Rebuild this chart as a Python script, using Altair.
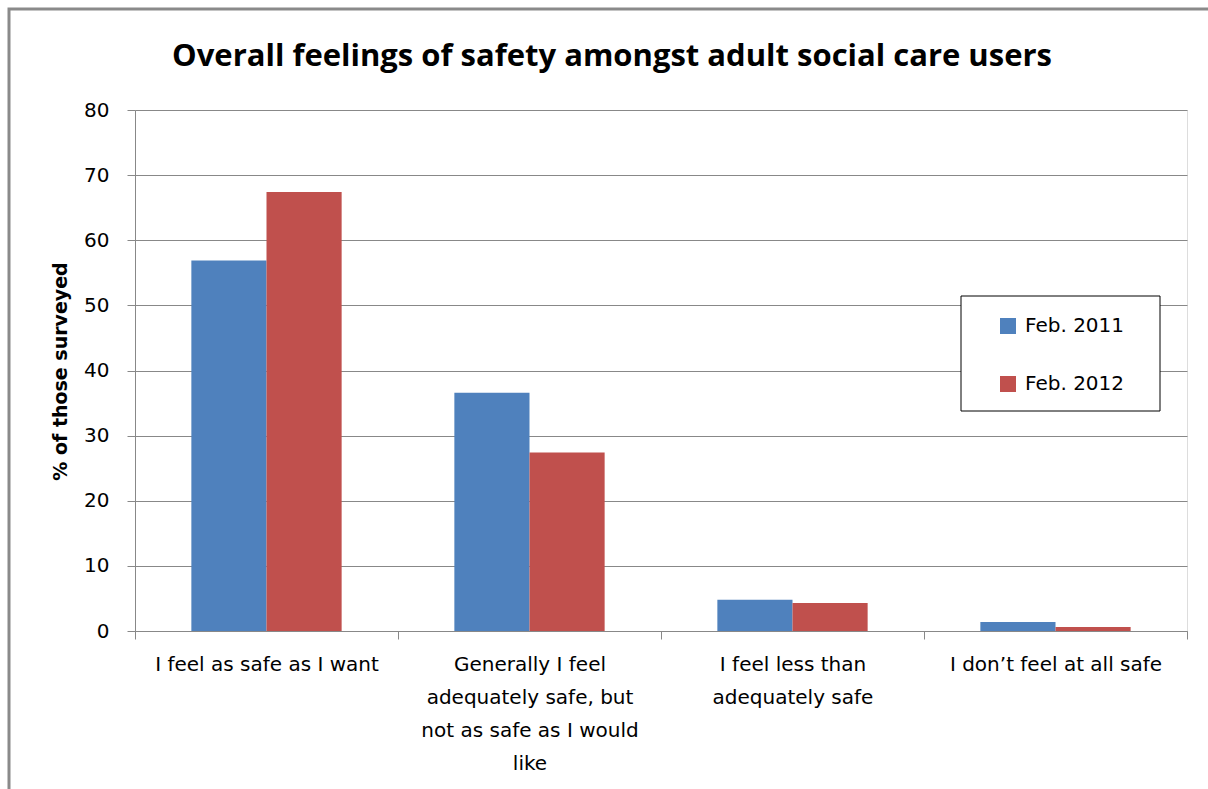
import altair as alt
import pandas as pd

# Survey answers (line breaks marked with "|") and the two survey rounds
categories = [
    "I feel as safe as I want",
    "Generally I feel|adequately safe, but|not as safe as I would|like",
    "I feel less than|adequately safe",
    "I don’t feel at all safe",
]
series = ["Feb. 2011", "Feb. 2012"]
values_2011 = [56.9, 36.6, 4.8, 1.4]
values_2012 = [67.4, 27.4, 4.3, 0.6]
colors = ["#4F81BD", "#C0504D"]
y_ticks = [0, 10, 20, 30, 40, 50, 60, 70, 80]

rows = []
for cat, a, b in zip(categories, values_2011, values_2012):
    rows.append({"category": cat, "survey": series[0], "pct": a})
    rows.append({"category": cat, "survey": series[1], "pct": b})
df = pd.DataFrame(rows)

FONT = "DejaVu Sans"
TITLE_FONT = "Open Sans"
GRAY = "#888888"

one = pd.DataFrame({"k": [0]})

# outer frame of the chart
frame = alt.Chart(one).mark_rect(
    fill="transparent", stroke="#8a8a8a", strokeWidth=3
).encode(
    x=alt.value(-126), x2=alt.value(1200),
    y=alt.value(-101), y2=alt.value(800),
)

# box behind the legend
legend_box = alt.Chart(one).mark_rect(
    fill="white", stroke="black", strokeWidth=1
).encode(
    x=alt.value(826), x2=alt.value(1025),
    y=alt.value(186), y2=alt.value(301),
)

bars = alt.Chart(df).mark_bar().encode(
    x=alt.X(
        "category:N",
        sort=categories,
        title=None,
        scale=alt.Scale(paddingInner=0, paddingOuter=0),
        axis=alt.Axis(
            labelAngle=0,
            labelExpr="split(datum.label, '|')",
            labelFont=FONT,
            labelFontSize=20,
            labelColor="black",
            labelLineHeight=33,
            labelPadding=15,
            labelLimit=400,
            tickBand="extent",
            tickSize=8,
            tickColor=GRAY,
            domainColor=GRAY,
            grid=False,
        ),
    ),
    xOffset=alt.XOffset(
        "survey:N", sort=series,
        scale=alt.Scale(paddingOuter=0.75, paddingInner=0),
    ),
    y=alt.Y(
        "pct:Q",
        scale=alt.Scale(domain=[0, 80], nice=False),
        axis=alt.Axis(
            values=y_ticks,
            title="% of those surveyed",
            titleFont=FONT,
            titleFontSize=19,
            titleFontWeight="bold",
            titleColor="black",
            titleX=-75,
            titleY=261,
            titleAlign="center",
            titleBaseline="middle",
            titleAngle=270,
            labelFont=FONT,
            labelFontSize=20,
            labelColor="black",
            labelPadding=18,
            tickSize=8,
            tickColor=GRAY,
            domainColor=GRAY,
            gridColor=GRAY,
            gridWidth=1,
        ),
    ),
    color=alt.Color(
        "survey:N",
        scale=alt.Scale(domain=series, range=colors),
        legend=alt.Legend(
            title=None,
            orient="none",
            legendX=863,
            legendY=206,
            symbolType="square",
            symbolSize=256,
            symbolStrokeWidth=0,
            labelFont=FONT,
            labelFontSize=20,
            labelColor="black",
            labelOffset=7,
            rowPadding=38,
            padding=0,
        ),
    ),
)

chart = alt.layer(frame, legend_box, bars).properties(
    width=1052,
    height=521,
    padding={"left": 135, "top": 110, "right": 21, "bottom": 158},
    autosize=alt.AutoSizeParams(type="none"),
    title=alt.TitleParams(
        text="Overall feelings of safety amongst adult social care users",
        font=TITLE_FONT,
        fontSize=31,
        fontWeight="bold",
        color="black",
        anchor="middle",
        dx=-49,
        dy=89,
        offset=0,
        baseline="alphabetic",
    ),
).configure_view(strokeWidth=0).configure(background="white")

chart.save("out.html", embed_options={"renderer": "svg", "actions": False})
